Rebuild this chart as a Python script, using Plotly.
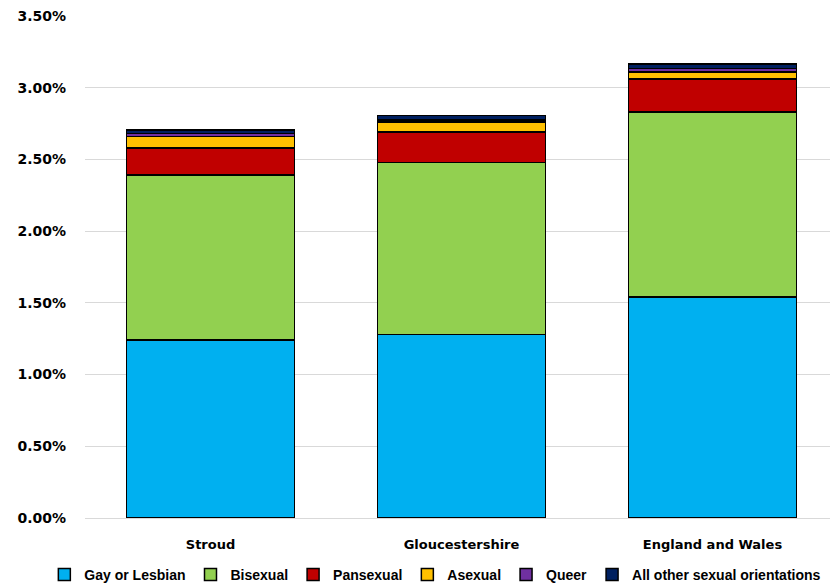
import plotly.graph_objects as go

areas = ["Stroud", "Gloucestershire", "England and Wales"]
series_names = ["Gay or Lesbian", "Bisexual", "Pansexual", "Asexual", "Queer", "All other sexual orientations"]
gay = [1.24, 1.28, 1.54]
bisexual = [1.15, 1.20, 1.29]
pansexual = [0.19, 0.21, 0.23]
asexual = [0.08, 0.07, 0.05]
queer = [0.02, 0.015, 0.025]
other = [0.025, 0.03, 0.03]
colors = ["#00B0F0", "#92D050", "#C00000", "#FFC000", "#7030A0", "#002060"]
tick_vals = [0, 0.5, 1.0, 1.5, 2.0, 2.5, 3.0, 3.5]
tick_text = ["0.00%", "0.50%", "1.00%", "1.50%", "2.00%", "2.50%", "3.00%", "3.50%"]

fig = go.Figure()
for name, vals, col in zip(series_names, [gay, bisexual, pansexual, asexual, queer, other], colors):
    fig.add_trace(go.Bar(
        x=areas, y=vals, name=name,
        marker=dict(color=col, line=dict(color="black", width=1.5)),
    ))

fig.update_layout(
    barmode="stack",
    bargap=0.33,
    width=830, height=578,
    margin=dict(l=77, r=0, t=8, b=68, autoexpand=False),
    plot_bgcolor="white", paper_bgcolor="white",
    font=dict(family="DejaVu Sans", size=13, color="black"),
    legend=dict(orientation="h",
                x=-0.054, xanchor="left", y=-0.1135, yanchor="middle",
                bgcolor="rgba(0,0,0,0)",
                font=dict(family="Liberation Sans", size=14, color="black", weight="bold"),
                itemwidth=30, traceorder="normal", tracegroupgap=0),
    showlegend=True,
)
fig.update_yaxes(range=[0, 3.5], tickvals=tick_vals, ticktext=tick_text,
                 showgrid=True, gridcolor="#D9D9D9", gridwidth=1, zeroline=False,
                 showline=False, ticks="", tickfont=dict(family="DejaVu Sans", size=14, weight="bold"),
                 ticklabelstandoff=18, ticklabeloverflow="allow")
fig.update_xaxes(showline=True, linecolor="#D9D9D9", linewidth=1, ticks="",
                 tickfont=dict(family="DejaVu Sans", size=13, weight="bold"),
                 ticklabelstandoff=14, ticklabeloverflow="allow")

fig.write_html("out.html")
